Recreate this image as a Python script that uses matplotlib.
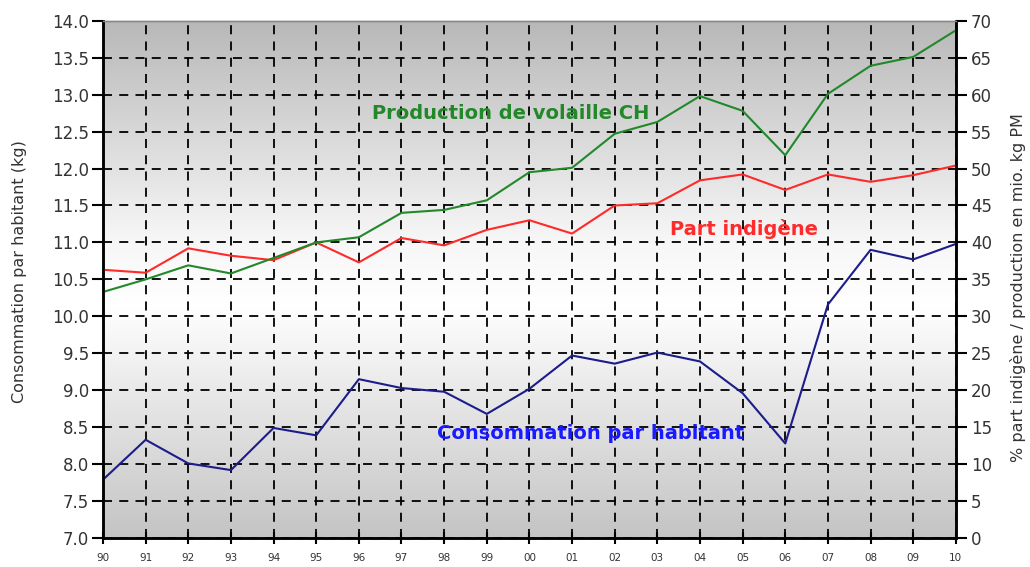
import numpy as np
import matplotlib.pyplot as plt
from matplotlib.colors import LinearSegmentedColormap

plt.rcParams['font.family'] = ['DejaVu Sans']

years = ["90", "91", "92", "93", "94", "95", "96", "97", "98", "99", "00",
         "01", "02", "03", "04", "05", "06", "07", "08", "09", "10"]

# kg per inhabitant (left axis)
consommation = [7.79, 8.33, 8.01, 7.92, 8.49, 8.39, 9.15, 9.03, 8.98, 8.68, 9.02,
                9.47, 9.36, 9.51, 9.39, 8.96, 8.28, 10.16, 10.9, 10.77, 10.98]
# % domestic share (right axis)
part_indigene = [36.3, 35.9, 39.2, 38.2, 37.6, 40.0, 37.3, 40.6, 39.6, 41.7, 43.0,
                 41.2, 45.0, 45.3, 48.4, 49.2, 47.1, 49.2, 48.2, 49.1, 50.4]
# mio. kg PM (right axis)
production = [33.3, 35.0, 36.9, 35.8, 37.9, 40.0, 40.7, 44.0, 44.4, 45.7, 49.5,
              50.1, 54.7, 56.3, 59.8, 57.8, 51.8, 60.1, 63.9, 65.1, 68.7]

x = np.arange(len(years))

fig = plt.figure(figsize=(10.3, 5.67), dpi=100)
ax = fig.add_axes([0.1, 0.051, 0.828, 0.9125])

# gray - white - gray background
cmap = LinearSegmentedColormap.from_list(
    "bg", [(0.0, "#c4c4c4"), (0.45, "#ffffff"), (0.58, "#f6f6f6"), (1.0, "#b8b8b8")])
grad = np.linspace(0, 1, 256).reshape(-1, 1)
ax.imshow(grad, aspect="auto", cmap=cmap, extent=(0, 1, 0, 1),
          transform=ax.transAxes, zorder=0, origin="lower")

ax.set_xlim(0, len(years) - 1)
ax.set_ylim(7.0, 14.0)
ax.set_yticks(np.arange(7.0, 14.01, 0.5))
ax.set_yticklabels([f"{v:.1f}" for v in np.arange(7.0, 14.01, 0.5)])
ax.set_xticks(x)
ax.set_xticklabels(years)
ax.grid(True, color="black", linestyle=(0, (5, 4)), linewidth=1.3, zorder=1)
ax.set_axisbelow(False)

ax.plot(x, consommation, color="#1c1c8a", linewidth=1.5, zorder=3)

ax2 = ax.twinx()
ax2.set_ylim(0, 70)
ax2.set_yticks(np.arange(0, 71, 5))
ax2.plot(x, part_indigene, color="#ff2a2a", linewidth=1.5)
ax2.plot(x, production, color="#22882a", linewidth=1.5)

for a in (ax, ax2):
    for side in ("left", "right", "bottom"):
        a.spines[side].set_linewidth(1.8)
        a.spines[side].set_color("black")
    a.spines["top"].set_color("#888888")
    a.spines["top"].set_linewidth(1.0)

ax.tick_params(axis="y", direction="out", length=8, width=1.5,
               labelsize=12, labelcolor="#333333", pad=2)
ax.tick_params(axis="x", direction="inout", length=8, width=1.5,
               labelsize=7.5, labelcolor="#333333", pad=7)
ax2.tick_params(axis="y", direction="out", length=8, width=1.5,
                labelsize=12, labelcolor="#333333", pad=3)

fig.text(20 / 1030, 1 - 272 / 567, "Consommation par habitant (kg)", fontsize=11.5,
         color="#333333", rotation=90, ha="center", va="center")
fig.text(1018 / 1030, 1 - 288 / 567, "% part indigène / production en mio. kg PM",
         fontsize=11.5, color="#333333", rotation=90, ha="center", va="center")

ax.text(6.3, 12.75, "Production de volaille CH", color="#22882a", fontsize=14,
        fontweight="bold", va="center", ha="left", zorder=4)
ax.text(13.3, 11.18, "Part indigène", color="#ff2a2a", fontsize=14,
        fontweight="bold", va="center", ha="left", zorder=4)
ax.text(7.83, 8.42, "Consommation par habitant", color="#1a1aff", fontsize=14,
        fontweight="bold", va="center", ha="left", zorder=4)

fig.savefig("out.png", dpi=100)
